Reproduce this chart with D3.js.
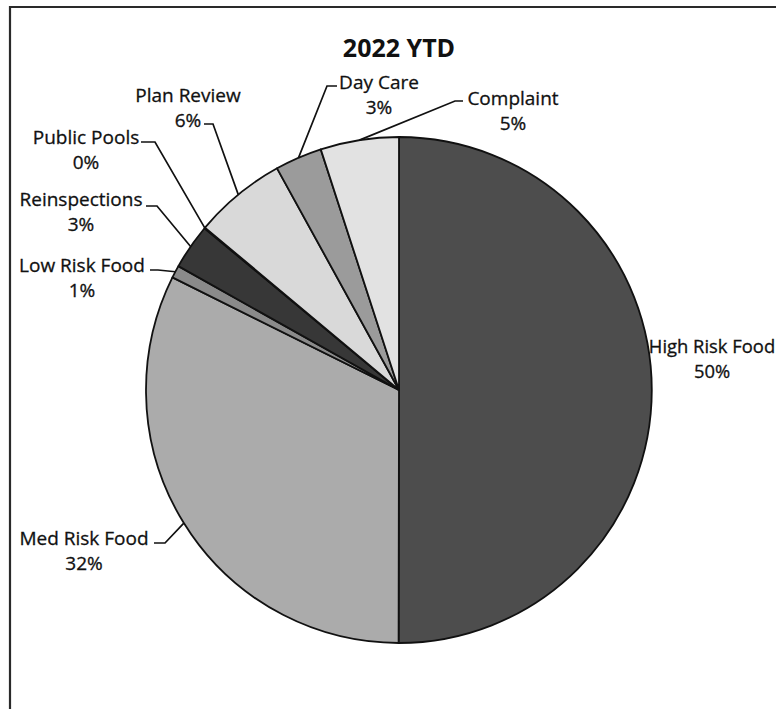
<!DOCTYPE html>
<html>
<head>
<meta charset="utf-8">
<script src="https://cdn.jsdelivr.net/npm/d3@7"></script>
<style>
  html, body { margin: 0; padding: 0; background: #fff; }
  svg { display: block; }
</style>
</head>
<body>
<svg id="chart" width="776" height="709"></svg>
<script>
// ---- data ----
const title = "2022 YTD";
const categories = ["High Risk Food", "Med Risk Food", "Low Risk Food", "Reinspections", "Public Pools", "Plan Review", "Day Care", "Complaint"];
const values = [50, 32.3, 0.8, 2.9, 0.05, 5.9, 3.0, 5.0];
const percentLabels = ["50%", "32%", "1%", "3%", "0%", "6%", "3%", "5%"];

// ---- styles / layout ----
const sliceColors = ["#4d4d4d", "#ababab", "#8a8a8a", "#373737", "#777777", "#d9d9d9", "#9b9b9b", "#e2e2e2"];
const W = 776, H = 709;
const cx = 399, cy = 390, R = 253;
// label anchor (center x, baseline of first line), font size and leader elbow, per category
const labelLayout = {
  "High Risk Food": { x: 712, y: 353, fs: 18.4, leader: null },
  "Med Risk Food":  { x: 84,  y: 545, fs: 19, leader: [[154, 543], [165, 543]] },
  "Low Risk Food":  { x: 82,  y: 272, fs: 19, leader: [[150, 270], [158, 270]] },
  "Reinspections":  { x: 81,  y: 206, fs: 19, leader: [[146, 206], [157, 206]] },
  "Public Pools":   { x: 86,  y: 144, fs: 19, leader: [[141, 142], [155, 142]] },
  "Plan Review":    { x: 188, y: 102, fs: 19, leader: [[204, 124], [213, 124]] },
  "Day Care":       { x: 379, y: 89,  fs: 19, leader: [[337, 86], [327, 86]] },
  "Complaint":      { x: 513, y: 105, fs: 19, leader: [[463, 101], [455, 101]] }
};
const lineGap = 25;

const svg = d3.select("#chart");
svg.append("rect").attr("width", W).attr("height", H).attr("fill", "#fff");

// frame (top and left edges visible)
svg.append("line").attr("x1", 9).attr("y1", 7).attr("x2", W).attr("y2", 7)
  .attr("stroke", "#2a2a2a").attr("stroke-width", 2.2);
svg.append("line").attr("x1", 10).attr("y1", 6).attr("x2", 10).attr("y2", H)
  .attr("stroke", "#2a2a2a").attr("stroke-width", 2.2);

// title
svg.append("text")
  .attr("x", cx).attr("y", 57)
  .attr("text-anchor", "middle")
  .attr("font-family", "'Open Sans', 'Liberation Sans', sans-serif")
  .attr("font-weight", "bold")
  .attr("font-size", 25)
  .attr("fill", "#111")
  .text(title);

const data = categories.map((c, i) => ({ cat: c, v: values[i], pct: percentLabels[i], color: sliceColors[i] }));

const pie = d3.pie().sort(null).value(d => d.v).startAngle(0).endAngle(2 * Math.PI);
const arcs = pie(data);
const arc = d3.arc().innerRadius(0).outerRadius(R);
const edgeArc = d3.arc().innerRadius(R).outerRadius(R);

const g = svg.append("g").attr("transform", `translate(${cx},${cy})`);
g.selectAll("path.slice")
  .data(arcs)
  .join("path")
  .attr("class", "slice")
  .attr("d", arc)
  .attr("fill", d => d.data.color)
  .attr("stroke", "#111")
  .attr("stroke-width", 1.8)
  .attr("stroke-linejoin", "round");

// leader lines
arcs.forEach(a => {
  const L = labelLayout[a.data.cat];
  if (!L.leader) return;
  const c = edgeArc.centroid(a);
  const end = [cx + c[0], cy + c[1]];
  const pts = [L.leader[0], L.leader[1], end];
  svg.append("path")
    .attr("d", d3.line()(pts))
    .attr("fill", "none")
    .attr("stroke", "#111")
    .attr("stroke-width", 1.7);
});

// labels
arcs.forEach(a => {
  const L = labelLayout[a.data.cat];
  const t = svg.append("text")
    .attr("text-anchor", "middle")
    .attr("font-family", "'Open Sans', 'Liberation Sans', sans-serif")
    .attr("font-size", L.fs)
    .attr("fill", "#111")
    .attr("stroke", "#111")
    .attr("stroke-width", 0.3);
  t.append("tspan").attr("x", L.x).attr("y", L.y).text(a.data.cat);
  t.append("tspan").attr("x", L.x).attr("y", L.y + lineGap).text(a.data.pct);
});
</script>
</body>
</html>
